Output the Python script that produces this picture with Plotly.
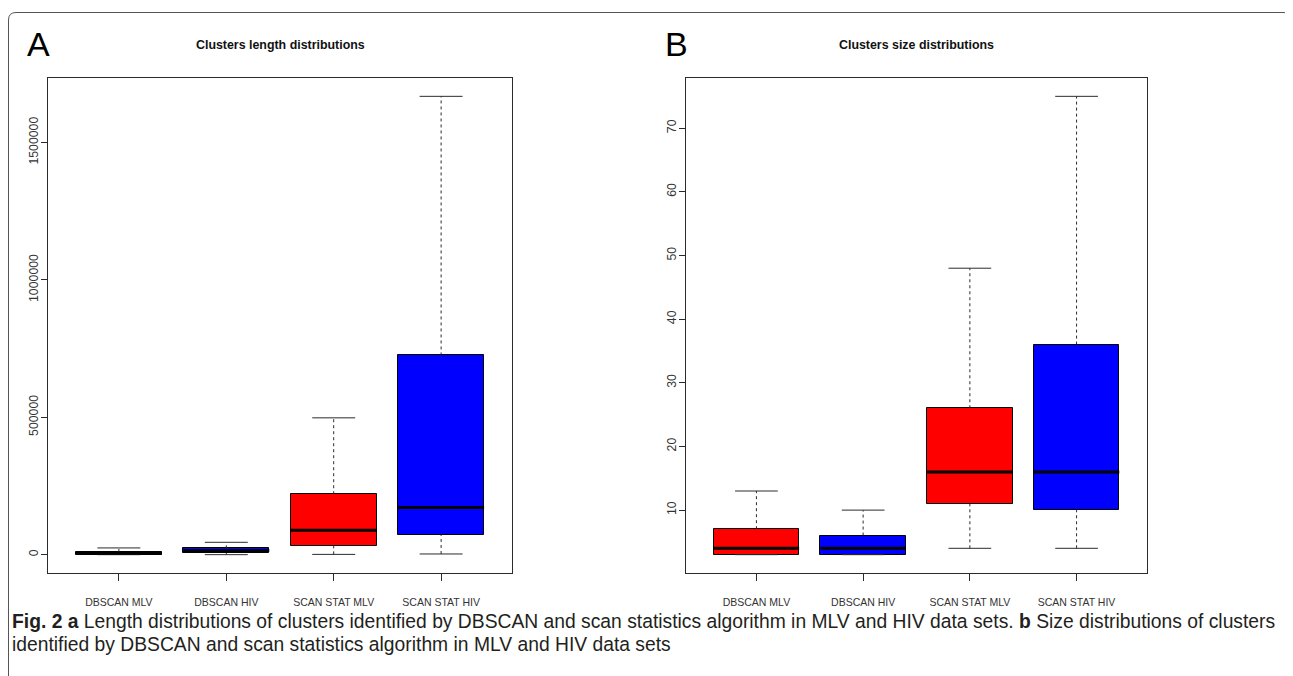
import plotly.graph_objects as go

# page body has an 8px default margin; lay out in screen pixels and compensate
OFF = 8
W, H = 1293 - OFF, 676 - OFF

categories = ["DBSCAN MLV", "DBSCAN HIV", "SCAN STAT MLV", "SCAN STAT HIV"]
box_colors = ["#FF0000", "#0000FF", "#FF0000", "#0000FF"]

# Panel A: cluster length
len_low = [0, 0, 1000, 2500]
len_q1 = [500, 6000, 33000, 73000]
len_med = [5000, 15000, 88500, 172000]
len_q3 = [10000, 23000, 220000, 725000]
len_high = [24500, 45000, 498000, 1668000]

# Panel B: cluster size
size_low = [3, 3, 4, 4]
size_q1 = [3, 3, 11, 10]
size_med = [4, 4, 16, 16]
size_q3 = [7, 6, 26, 36]
size_high = [13, 10, 48, 75]

len_ticks = [0, 500000, 1000000, 1500000]
size_ticks = [10, 20, 30, 40, 50, 60, 70]


def px(X):
    return (X - OFF) / W


def py(Y):
    return 1 - (Y - OFF) / H


fig = go.Figure()
pos = [1, 2, 3, 4]
BW = 0.8
CW = 0.4
INK = "#2b2b2b"


def add_panel(low, q1, med, q3, high, xa, ya):
    xs, ys = [], []
    for p, a, b, c, d in zip(pos, low, q1, q3, high):
        xs += [p, p, None, p, p, None]
        ys += [a, b, None, c, d, None]
    fig.add_trace(go.Scatter(x=xs, y=ys, mode="lines", xaxis=xa, yaxis=ya,
                             line=dict(color=INK, width=1, dash="3px,3px"),
                             hoverinfo="skip", showlegend=False))
    xs, ys = [], []
    for p, a, d in zip(pos, low, high):
        xs += [p - CW / 2, p + CW / 2, None, p - CW / 2, p + CW / 2, None]
        ys += [a, a, None, d, d, None]
    fig.add_trace(go.Scatter(x=xs, y=ys, mode="lines", xaxis=xa, yaxis=ya,
                             line=dict(color=INK, width=1),
                             hoverinfo="skip", showlegend=False))
    fig.add_trace(go.Bar(x=pos, y=[c - b for b, c in zip(q1, q3)], base=q1,
                         width=BW, xaxis=xa, yaxis=ya,
                         marker=dict(color=box_colors, line=dict(color="black", width=1)),
                         showlegend=False))
    xs, ys = [], []
    for p, m in zip(pos, med):
        xs += [p - BW / 2, p + BW / 2, None]
        ys += [m, m, None]
    fig.add_trace(go.Scatter(x=xs, y=ys, mode="lines", xaxis=xa, yaxis=ya,
                             line=dict(color="black", width=3),
                             hoverinfo="skip", showlegend=False))


add_panel(len_low, len_q1, len_med, len_q3, len_high, "x", "y")
add_panel(size_low, size_q1, size_med, size_q3, size_high, "x2", "y2")


def rng(lo, hi):
    d = (hi - lo) * 0.04
    return [lo - d, hi + d]


ydom = [py(573), py(78)]
SANS = "Liberation Sans, Arial, Helvetica, sans-serif"
axis_common = dict(showgrid=False, zeroline=False, showline=True, mirror=True,
                   linecolor=INK, linewidth=1, ticks="outside",
                   tickcolor=INK)
xfont = dict(family=SANS, size=10.5, color="#333333")
yfont = dict(family=SANS, size=12.3, color="#333333")
xr = [0.5 - 0.16, 4.5 + 0.16]
fig.update_layout(
    xaxis=dict(domain=[px(48), px(512)], range=xr, tickvals=pos, ticktext=categories,
               anchor="y", ticklen=7, ticklabelstandoff=12, tickfont=xfont, **axis_common),
    yaxis=dict(domain=ydom, range=rng(0, max(len_high)), tickvals=len_ticks,
               ticktext=[str(v) for v in len_ticks], tickangle=-90, anchor="x",
               ticklen=6, ticklabelstandoff=-2, tickfont=yfont, **axis_common),
    xaxis2=dict(domain=[px(686), px(1147)], range=xr, tickvals=pos, ticktext=categories,
                anchor="y2", ticklen=7, ticklabelstandoff=12, tickfont=xfont, **axis_common),
    yaxis2=dict(domain=ydom, range=rng(min(size_low), max(size_high)), tickvals=size_ticks,
                ticktext=[str(v) for v in size_ticks], tickangle=-90, anchor="x2",
                ticklen=6, ticklabelstandoff=-2, tickfont=yfont, **axis_common),
)

ann = []
title_font = dict(family=SANS, size=12.4, color="#111111")


def A(text, X, Y, font, xanchor="center"):
    ann.append(dict(text=text, x=px(X), y=py(Y), xref="paper", yref="paper",
                    xanchor=xanchor, yanchor="middle", showarrow=False, font=font))


A("<b>Clusters length distributions</b>", 280, 45, title_font)
A("<b>Clusters size distributions</b>", 916, 45, title_font)
lab_font = dict(family=SANS, size=34, color="black")
A("A", 38, 44, lab_font)
A("B", 676, 44, lab_font)
cap_font = dict(family=SANS, size=19.3, color="#231f20")
A("<b>Fig. 2 a</b> Length distributions of clusters identified by DBSCAN and scan "
  "statistics algorithm in MLV and HIV data sets. <b>b</b> Size distributions of clusters",
  10, 621, cap_font, xanchor="left")
A("identified by DBSCAN and scan statistics algorithm in MLV and HIV data sets",
  10, 644, cap_font, xanchor="left")


def P(X, Y):
    return f"{px(X):.5f},{py(Y):.5f}"


frame_path = ("M " + P(8.5, 680) + " L " + P(8.5, 20) + " Q " + P(8.5, 12.5) + " " + P(16, 12.5)
              + " L " + P(1283, 12.5) + " Q " + P(1290, 12.5) + " " + P(1292, 18))
fig.update_layout(
    width=W, height=H, margin=dict(l=0, r=0, t=0, b=0),
    paper_bgcolor="white", plot_bgcolor="white",
    annotations=ann, bargap=0, showlegend=False,
    shapes=[dict(type="path", path=frame_path, xref="paper", yref="paper",
                 line=dict(color="#555555", width=1))],
)

fig.write_html("out.html")
